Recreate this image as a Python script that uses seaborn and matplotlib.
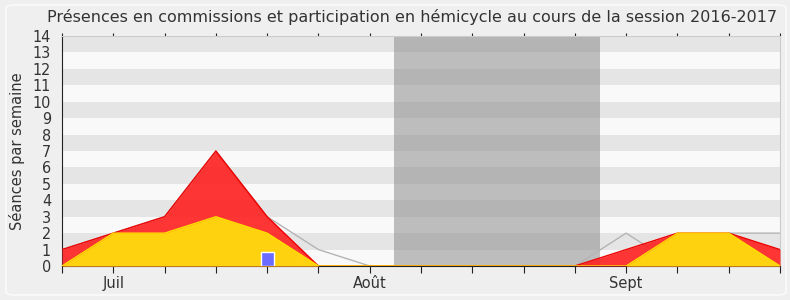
import matplotlib
matplotlib.use("Agg")
import matplotlib.pyplot as plt
from matplotlib.patches import FancyBboxPatch
import seaborn as sns
import pandas as pd

# Weekly activity, session 2016-2017 (weeks starting late June to end of September)
weeks = list(range(15))
hemicycle = [1, 2, 3, 7, 3, 0, 0, 0, 0, 0, 0, 1, 2, 2, 1]
commissions = [0, 2, 2, 3, 2, 0, 0, 0, 0, 0, 0, 0, 2, 2, 0]
mediane = [1, 2, 3, 7, 3, 1, 0, 0, 0, 0, 0, 2, 0, 2, 2]
questions_week = [4]
questions = [0.85]
vacances = (6.47, 10.49)
month_ticks = [1, 6, 11]
month_labels = ["Juil", "Août", "Sept"]
y_max = 14

df = pd.DataFrame({"semaine": weeks, "hemicycle": hemicycle,
                   "commissions": commissions, "mediane": mediane})

sns.set_theme(style="white")
plt.rcParams["font.family"] = ["DejaVu Sans"]

fig = plt.figure(figsize=(7.9, 3.0), dpi=100, facecolor="#efefef")
# rounded frame around the chart
fig.patches.append(FancyBboxPatch((6 / 790, 5 / 300), 780 / 790, 290 / 300,
                                  boxstyle="round,pad=0,rounding_size=0.01",
                                  transform=fig.transFigure, facecolor="none",
                                  edgecolor="#fafafa", lw=1.2, zorder=0))

ax = fig.add_axes([62 / 790, 1 - 266 / 300, 718 / 790, 230 / 300])
ax.set_facecolor("#f9f9f9")

# alternating horizontal bands
for k in range(1, y_max, 2):
    ax.axhspan(k, k + 1, color="#e5e5e5", lw=0, zorder=0)

# holiday period
ax.axvspan(*vacances, color="#8c8c8c", alpha=0.55, lw=0, zorder=1)

sns.lineplot(data=df, x="semaine", y="mediane", ax=ax, color="#b4b4b4",
             lw=1, zorder=2)
ax.fill_between(df["semaine"], 0, df["hemicycle"], color="#ff2020",
                alpha=0.9, lw=0, zorder=3)
sns.lineplot(data=df, x="semaine", y="hemicycle", ax=ax, color="#ee0000",
             lw=1, zorder=4)
ax.fill_between(df["semaine"], 0, df["commissions"], color="#ffd20f",
                lw=0, zorder=5)
sns.lineplot(data=df, x="semaine", y="commissions", ax=ax, color="#ffe000",
             lw=1, zorder=6)
ax.bar(questions_week, questions, width=0.25, color="#6b6bff", zorder=7)

ax.set_xlim(0, 14)
ax.set_ylim(0, y_max)
ax.set_yticks(range(0, y_max + 1))
ax.set_xticks(weeks, minor=True)
ax.set_xticks(month_ticks)
ax.set_xticklabels(month_labels)
ax.tick_params(axis="both", which="both", direction="out", colors="#222222",
               labelcolor="#333333")
ax.tick_params(axis="x", which="both", length=5, width=0.8, pad=2,
               labelsize=10.5, bottom=True, top=True)
ax.tick_params(axis="y", length=5, width=0.8, pad=3, labelsize=11.5)
for lab in ax.get_yticklabels():
    lab.set_fontstretch("condensed")
ax.set_xlabel("")
ax.set_ylabel("Séances par semaine", fontsize=10.5, color="#333333")
ax.yaxis.set_label_coords(-0.052, 0.5)

for side in ["top", "right"]:
    ax.spines[side].set_color("#cccccc")
    ax.spines[side].set_linewidth(0.8)
for side in ["left", "bottom"]:
    ax.spines[side].set_color("#222222")
    ax.spines[side].set_linewidth(0.8)

fig.text(412 / 790, 1 - 17 / 300,
         "Présences en commissions et participation en hémicycle au cours de la session 2016-2017",
         ha="center", va="center", fontsize=11.5, color="#333333")

fig.canvas.draw()
# short marks along the top edge
for t in ax.xaxis.get_major_ticks() + ax.xaxis.get_minor_ticks():
    t.tick2line.set_markersize(2)

fig.savefig("out.png", dpi=100, facecolor=fig.get_facecolor())
